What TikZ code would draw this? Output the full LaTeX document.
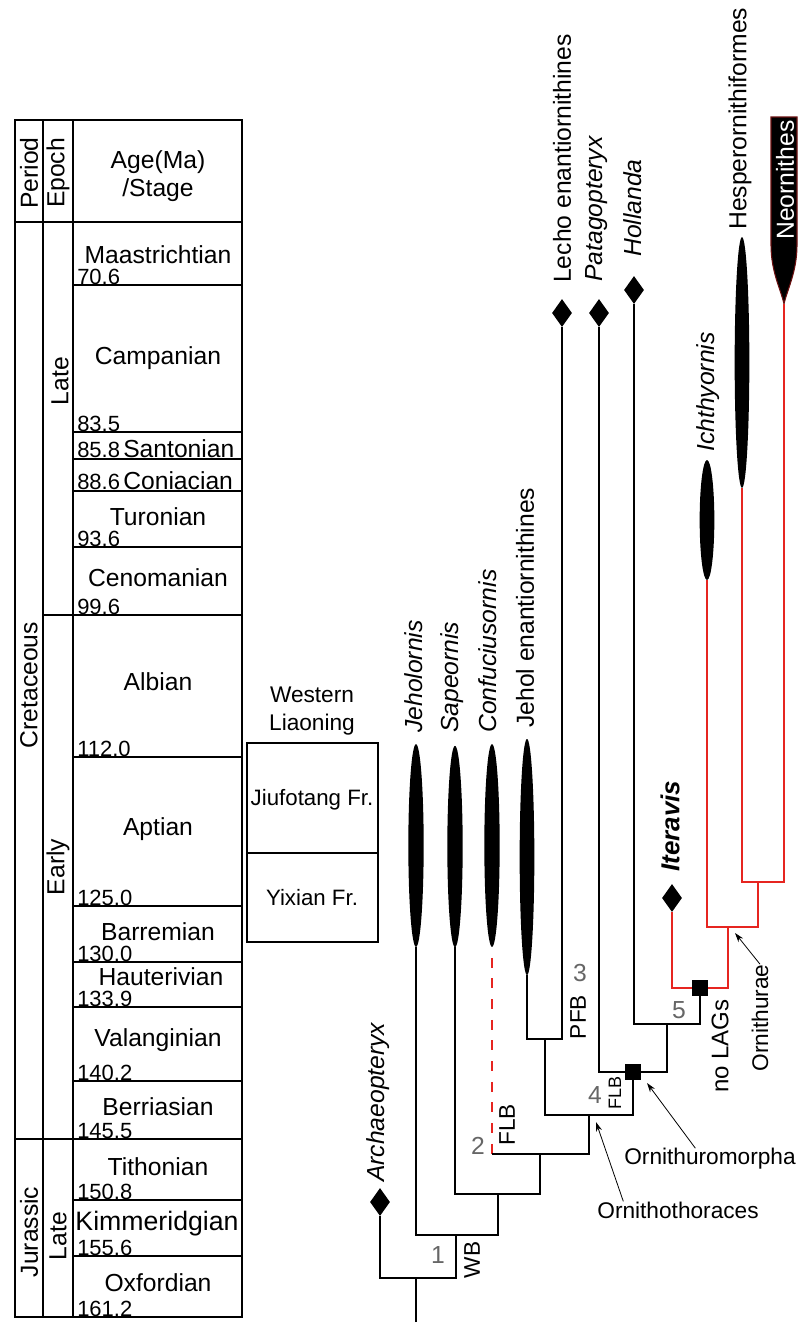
\documentclass[tikz,border=0pt]{standalone}
\usepackage{fontspec}
\setmainfont{Liberation Sans}
\usetikzlibrary{arrows.meta,positioning,shapes.geometric}
\definecolor{cladered}{HTML}{E62520}
\definecolor{nodegray}{HTML}{666666}
\definecolor{neoedge}{HTML}{6B1010}
\tikzset{
  rule/.style={line width=1.6pt},
  stage/.style={inner sep=0,font=\fontsize{18.5}{21}\selectfont},
  agenum/.style={anchor=base west,inner sep=0,font=\fontsize{16.5}{18}\selectfont},
  vlabel/.style={rotate=90,inner sep=0,font=\fontsize{18.5}{21}\selectfont},
  taxon/.style={rotate=90,anchor=west,inner sep=0,font=\fontsize{18.5}{21}\selectfont},
  taxonit/.style={taxon,font=\fontsize{18.5}{21}\selectfont\itshape},
  spindle/.style={ellipse,fill=black,inner sep=0,minimum width=11.5pt},
  tipmark/.style={diamond,fill=black,inner sep=0,minimum width=15pt,minimum height=21pt},
  apo/.style={rectangle,fill=black,inner sep=0,minimum size=12pt},
  branch/.style={line width=1.5pt},
  redbranch/.style={line width=1.4pt,draw=cladered},
  reddash/.style={line width=1.6pt,draw=cladered,dash pattern=on 7.5pt off 8pt},
  nodenum/.style={inner sep=0,text=nodegray,font=\fontsize{18.5}{21}\selectfont},
  charlbl/.style={rotate=90,inner sep=0,font=\fontsize{17}{20}\selectfont},
  cladelbl/.style={inner sep=0,font=\fontsize{17}{20}\selectfont},
  pointer/.style={-{Stealth[length=7pt,width=4.5pt]},line width=0.6pt}
}

\begin{document}
\begin{tikzpicture}[x=0.75pt,y=-0.75pt]
    \useasboundingbox (0,0) rectangle (800,1331);
    % time scale
    \draw[rule] (15,120) rectangle (242,1317);
    \draw[rule] (43,120) -- (43,1317) (73,120) -- (73,1317);
    \draw[rule] (15,222) -- (242,222) (43,615) -- (242,615) (15,1139) -- (242,1139);
    \draw[rule] (73,285) -- (242,285) (73,432) -- (242,432) (73,459) -- (242,459)
      (73,491) -- (242,491) (73,547) -- (242,547) (73,757) -- (242,757)
      (73,906) -- (242,906) (73,962) -- (242,962) (73,1007) -- (242,1007)
      (73,1081) -- (242,1081) (73,1200) -- (242,1200) (73,1256) -- (242,1256);
    \node[vlabel] (perhd) at (29,173) {Period};
    \node[vlabel] (epohd) at (58,173) {Epoch};
    \node[stage,align=center] (agehd) at (158,176) {Age(Ma)\\/Stage};
    \node[vlabel] (creta) at (29,685) {Cretaceous};
    \node[vlabel] (juras) at (29,1232) {Jurassic};
    \node[vlabel] (latek) at (60,381) {Late};
    \node[vlabel] (early) at (58,867) {Early};
    \node[vlabel] (latej) at (58,1236) {Late};
    \node[stage] (maas) at (158,255) {Maastrichtian};
    \node[agenum] (n706) at (77,284) {70.6};
    \node[stage] (camp) at (158,358) {Campanian};
    \node[agenum] (n835) at (77,431) {83.5};
    \node[agenum] (n858) at (77,457) {85.8};
    \node[stage,anchor=base west] (sant) at (123,457) {Santonian};
    \node[agenum] (n886) at (77,489) {88.6};
    \node[stage,anchor=base west] (coni) at (123,489) {Coniacian};
    \node[stage] (turo) at (158,517) {Turonian};
    \node[agenum] (n936) at (77,546) {93.6};
    \node[stage] (ceno) at (158,578) {Cenomanian};
    \node[agenum] (n996) at (77,614) {99.6};
    \node[stage] (albi) at (158,682) {Albian};
    \node[agenum] (n1120) at (77,756) {112.0};
    \node[stage] (apti) at (158,829) {Aptian};
    \node[agenum] (n1250) at (77,905) {125.0};
    \node[stage] (barr) at (158,932) {Barremian};
    \node[agenum] (n1300) at (77,961) {130.0};
    \node[stage] (haut) at (161,977) {Hauterivian};
    \node[agenum] (n1339) at (77,1006) {133.9};
    \node[stage] (vala) at (158,1040) {Valanginian};
    \node[agenum] (n1402) at (77,1080) {140.2};
    \node[stage] (berr) at (158,1107) {Berriasian};
    \node[agenum] (n1455) at (77,1138) {145.5};
    \node[stage] (tith) at (158,1167) {Tithonian};
    \node[agenum] (n1508) at (77,1199) {150.8};
    \node[stage,font=\fontsize{20}{21}\selectfont] (kimm) at (157,1224) {Kimmeridgian};
    \node[agenum] (n1556) at (77,1255) {155.6};
    \node[stage] (oxfo) at (158,1283) {Oxfordian};
    \node[agenum] (n1612) at (77,1316) {161.2};
    % formations
    \node[stage,align=center,font=\fontsize{17}{21}\selectfont] (wlhd) at (312,711) {Western\\Liaoning};
    \draw[rule] (247,743) rectangle (378,942) (247,853) -- (378,853);
    \node[stage,font=\fontsize{16.7}{20}\selectfont] (jiuf) at (312,800) {Jiufotang Fr.};
    \node[stage,font=\fontsize{16.7}{20}\selectfont] (yixi) at (312,898) {Yixian Fr.};
    % taxa
    \node[spindle,minimum height=152pt] (jeho) at (416,845.5) {};
    \node[spindle,minimum height=151pt] (sape) at (455,846.5) {};
    \node[spindle,minimum height=152pt] (conf) at (492,845.5) {};
    \node[spindle,minimum height=177pt,minimum width=11pt] (jenan) at (527,857) {};
    \node[spindle,minimum height=90pt,minimum width=11pt] (ichth) at (707,520) {};
    \node[spindle,minimum height=188pt,minimum width=11pt] (hesp) at (742,362.5) {};
    \node[tipmark] (archae) at (380,1202) {};
    \node[tipmark] (lecho) at (562,313) {};
    \node[tipmark] (patago) at (599,313) {};
    \node[tipmark] (holl) at (634,290) {};
    \node[tipmark] (itera) at (672,898) {};
    \coordinate (neo) at (784,304);
    \filldraw[fill=black,draw=neoedge,line width=0.8pt] (771,117) -- (797,117) -- (797,245)
      .. controls (797,272) and (787,290) .. (neo)
      .. controls (781,290) and (771,272) .. (771,245) -- cycle;
    % branching points
    \coordinate (root) at (416,1322);
    \coordinate (c0) at (416,1278);
    \coordinate (c1) at (456,1235);
    \coordinate (c2) at (498,1194);
    \coordinate (c3) at (540,1154);
    \coordinate (c4) at (589,1115);
    \coordinate (cen) at (545,1039);
    \coordinate (sq1) at (633,1072);
    \coordinate (c6) at (667,1024);
    \coordinate (sq2) at (700,988);
    \coordinate (c8) at (728,927);
    \coordinate (c9) at (758,882);
    \draw[branch] (root) -- (c0);
    \draw[branch] (archae.south) |- (c0) -| (c1);
    \draw[branch] (jeho.south) |- (c1) -| (c2);
    \draw[branch] (sape.south) |- (c2) -| (c3);
    \draw[reddash] ([yshift=-8pt]conf.south) -- ([yshift=-4pt]conf.south |- c3);
    \draw[branch] (conf.south |- c3) -- (c3) -| (c4);
    \draw[branch] (cen) |- (c4) -| (sq1);
    \draw[branch] (jenan.south) |- (cen) -| (lecho.south);
    \draw[branch] (patago.south) |- (sq1) -| (c6);
    \draw[branch] (holl.south) |- (c6) -| (sq2);
    \draw[redbranch] (itera.south) |- (sq2) -| (c8);
    \draw[redbranch] (ichth.south) |- (c8) -| (c9);
    \draw[redbranch] (hesp.south) |- (c9) -| (neo);
    \node[apo] (apo1) at (sq1) {};
    \node[apo] (apo2) at (sq2) {};
    % labels
    \node[taxonit] (archaelbl) at (378,1182) {Archaeopteryx};
    \node[taxonit] (jeholbl) at (414,733) {Jeholornis};
    \node[taxonit] (sapelbl) at (452,733) {Sapeornis};
    \node[taxonit] (conflbl) at (488,733) {Confuciusornis};
    \node[taxon] (jenanlbl) at (525,728) {Jehol enantiornithines};
    \node[taxon] (lecholbl) at (562,283) {Lecho enantiornithines};
    \node[taxonit] (patagolbl) at (597,282) {Patagopteryx};
    \node[taxonit] (holllbl) at (633,257) {Hollanda};
    \node[taxonit,font=\fontsize{19.5}{22}\selectfont\bfseries\itshape] (iteralbl) at (670,872) {Iteravis};
    \node[taxonit] (ichthlbl) at (708,452) {Ichthyornis};
    \node[taxon] (hesplbl) at (740,230) {Hesperornithiformes};
    \node[taxon,text=white] (neolbl) at (785,240) {Neornithes};
    \node[nodenum] (k1) at (438,1255) {1};
    \node[nodenum] (k2) at (478,1146) {2};
    \node[nodenum] (k3) at (580,973) {3};
    \node[nodenum] (k4) at (595,1095) {4};
    \node[nodenum] (k5) at (679,1010) {5};
    \node[charlbl] (wb) at (472,1260) {WB};
    \node[charlbl] (flba) at (507,1125) {FLB};
    \node[charlbl] (pfb) at (578,1017) {PFB};
    \node[charlbl,font=\fontsize{13.5}{16}\selectfont] (flbb) at (615,1093) {FLB};
    \node[charlbl,font=\fontsize{18}{20}\selectfont] (nolags) at (720,1046) {no LAGs};
    \node[charlbl] (ornae) at (760,1018) {Ornithurae};
    \node[cladelbl] (othor) at (678,1210) {Ornithothoraces};
    \node[cladelbl] (ormor) at (710,1159) {Ornithuromorpha};
    \coordinate (othtip) at (596,1122);
    \coordinate (ormtip) at (647,1083);
    \coordinate (ornaetip) at (735,933);
    \draw[pointer] ([xshift=-41pt]othor.north) -- (othtip);
    \draw[pointer] ([xshift=-11pt]ormor.north) -- (ormtip);
    \draw[pointer] (ornae.east) -- (ornaetip);
  \end{tikzpicture}
\end{document}
